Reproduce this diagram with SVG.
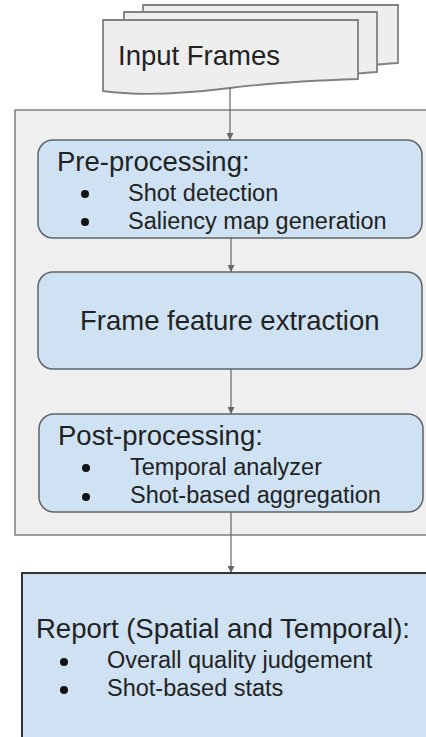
<svg xmlns="http://www.w3.org/2000/svg" width="426" height="737" viewBox="0 0 426 737">
<style>
text{font-family:"Liberation Sans",Arial,sans-serif;fill:#222}
.h{font-size:27.5px}
.b{font-size:23.5px}
.page{fill:#eeeeee;stroke:#808080;stroke-width:1.8}
.box{fill:#cfe2f3;stroke:#5f6368;stroke-width:1.5}
.con{stroke:#666;stroke-width:1.2;fill:none}
.dot{fill:#111}
</style>
<defs>
<marker id="ah" viewBox="0 0 10 10" refX="10" refY="5" markerWidth="7" markerHeight="7" markerUnits="userSpaceOnUse" orient="auto">
<path d="M0,0 L10,5 L0,10 Z" fill="#666"/>
</marker>
</defs>
<rect width="426" height="737" fill="#ffffff"/>
<g id="container">
<rect x="15" y="110" width="420" height="425" fill="#efefef" stroke="#7f7f7f" stroke-width="1.5"/>
</g>
<g id="input-frames">
<path class="page" d="M143,5 H398 V63 C380,64 360,66 340,68 L143,68 Z"/>
<path class="page" d="M124,12 H377 V72 C360,73 340,75 320,77 L124,77 Z"/>
<path class="page" d="M103,20 H358 V79 C300,81 262,84 230,88 C190,93 145,97 103,91 Z"/>
<text class="h" x="118" y="65">Input Frames</text>
</g>
<g id="connectors">
<line class="con" x1="230" y1="88" x2="230" y2="140" marker-end="url(#ah)"/>
<line class="con" x1="231" y1="238" x2="231" y2="272" marker-end="url(#ah)"/>
<line class="con" x1="231" y1="369" x2="231" y2="414" marker-end="url(#ah)"/>
<line class="con" x1="231" y1="512" x2="231" y2="573" marker-end="url(#ah)"/>
</g>
<g id="pre-processing">
<rect class="box" x="38" y="140" width="384" height="98" rx="15"/>
<text class="h" x="57" y="171">Pre-processing:</text>
<circle class="dot" cx="85" cy="194" r="4"/>
<text class="b" x="128" y="201">Shot detection</text>
<circle class="dot" cx="85" cy="222" r="4"/>
<text class="b" x="128" y="229">Saliency map generation</text>
</g>
<g id="frame-feature">
<rect class="box" x="38" y="272" width="384" height="97" rx="15"/>
<text class="h" x="80" y="330">Frame feature extraction</text>
</g>
<g id="post-processing">
<rect class="box" x="39" y="414" width="384" height="98" rx="15"/>
<text class="h" x="58" y="445">Post-processing:</text>
<circle class="dot" cx="86" cy="468" r="4"/>
<text class="b" x="130" y="475">Temporal analyzer</text>
<circle class="dot" cx="86" cy="497" r="4"/>
<text class="b" x="130" y="503">Shot-based aggregation</text>
</g>
<g id="report">
<rect x="22" y="573" width="420" height="180" fill="#cfe2f3" stroke="#333" stroke-width="2"/>
<text class="h" x="36" y="638">Report (Spatial and Temporal):</text>
<circle class="dot" cx="64" cy="662" r="4"/>
<text class="b" x="107" y="668">Overall quality judgement</text>
<circle class="dot" cx="64" cy="690" r="4"/>
<text class="b" x="107" y="696">Shot-based stats</text>
</g>
</svg>
